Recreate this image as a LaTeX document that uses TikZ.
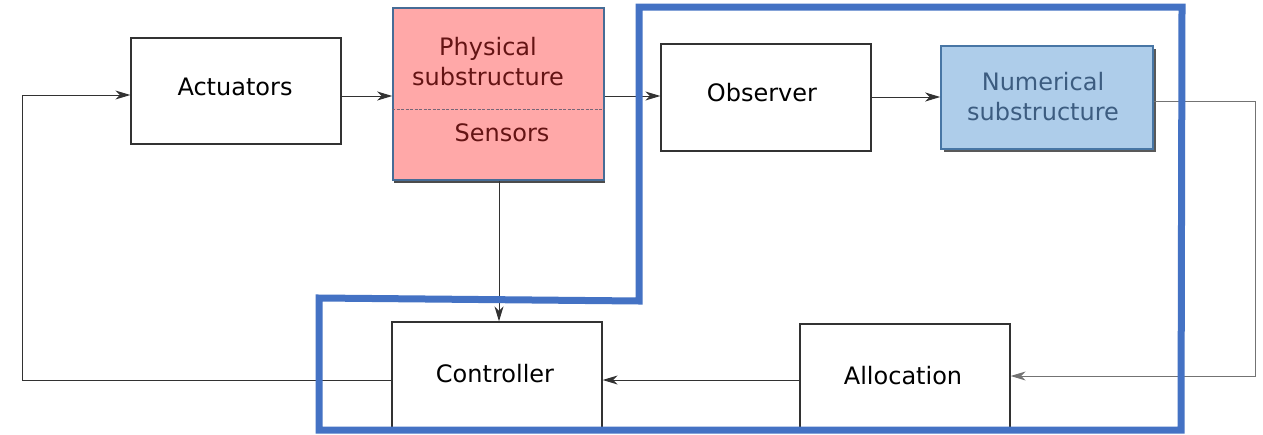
\documentclass[tikz,border=0pt]{standalone}
\usepackage{fontspec}
\setmainfont{DejaVu Sans}
\usetikzlibrary{arrows.meta,shadows}
\definecolor{frameblue}{RGB}{68,114,196}
\definecolor{physfill}{RGB}{255,168,168}
\definecolor{physedge}{RGB}{70,108,150}
\definecolor{phystext}{RGB}{100,20,20}
\definecolor{numfill}{RGB}{174,205,234}
\definecolor{numedge}{RGB}{72,118,165}
\definecolor{numtext}{RGB}{60,92,128}
\definecolor{linegray}{RGB}{50,50,50}
\tikzset{
  every node/.style={font=\fontsize{24}{30}\selectfont, inner sep=0pt},
  blockbox/.style={draw=linegray, line width=1.3pt, fill=white, rectangle,
                   minimum width=210pt, minimum height=106pt},
  physbox/.style={draw=physedge, line width=1.6pt, fill=physfill, rectangle,
                  minimum width=211pt, minimum height=172pt,
                  drop shadow={shadow xshift=0.5pt, shadow yshift=-2.5pt, fill=black!70, opacity=1}},
  numbox/.style={draw=numedge, line width=1.6pt, fill=numfill, rectangle,
                 minimum width=212pt, minimum height=103pt,
                 drop shadow={shadow xshift=2.5pt, shadow yshift=-2.5pt, fill=black!65, opacity=1}},
  flow/.style={draw=linegray, line width=1pt, -{Stealth[length=15pt,width=9pt,inset=4.5pt]}},
  frame/.style={draw=frameblue, line width=7pt, line join=miter},
}
\begin{document}
\begin{tikzpicture}[x=1pt,y=-1pt]
  % canvas
  \path[fill=white, use as bounding box] (0,0) rectangle (1263,434);

  % blocks
  \node[blockbox] (act) at (236,91) {};
  \node (actlabel) at (235,87) {Actuators};

  \node[physbox] (phys) at (498.5,94) {};
  \node[align=center, text=phystext] (physlabel) at (488,62) {Physical\\substructure};
  \node[text=phystext] (senslabel) at (502,133) {Sensors};
  \draw[physedge!50!phystext!80!white, line width=0.6pt, dash pattern=on 3pt off 1.5pt]
    (phys.west |- 0,109) -- (phys.east |- 0,109);

  \node[blockbox, minimum height=107pt] (obs) at (766,97.5) {};
  \node (obslabel) at (762,93) {Observer};

  \node[numbox] (num) at (1047,97.5) {};
  \node[align=center, text=numtext] (numlabel) at (1043,97) {Numerical\\substructure};

  \node[blockbox, minimum height=110pt] (ctrl) at (497,377) {};
  \node (ctrllabel) at (495,374) {Controller};

  \node[blockbox, minimum height=108pt] (alloc) at (905,378) {};
  \node (alloclabel) at (903,376) {Allocation};

  % connectors
  \coordinate (feedR1) at (1255,101);
  \coordinate (feedR2) at (1255,376);
  \coordinate (feedL1) at (22,380);
  \coordinate (feedL2) at (22,95);

  \draw[flow] (act.east |- 0,96) -- (phys.west |- 0,96);
  \draw[flow] (phys.east |- 0,96) -- (obs.west |- 0,96);
  \draw[flow] (obs.east |- 0,97) -- (num.west |- 0,97);
  \draw[flow, draw=black!55] (num.east |- feedR1) -- (feedR1) -- (feedR2) -- (alloc.east |- feedR2);
  \draw[flow] (alloc.west |- 0,380) -- (ctrl.east |- 0,380);
  \draw[flow] (ctrl.west |- feedL1) -- (feedL1) -- (feedL2) -- (act.west |- feedL2);
  \draw[flow] (phys.south -| 499,0) -- (ctrl.north -| 499,0);

  % enclosing frame
  \draw[frame] (319,298) -- (639,301) -- (639,7) -- (1182,7) -- (1181,430) -- (319,430) -- cycle;
\end{tikzpicture}
\end{document}
